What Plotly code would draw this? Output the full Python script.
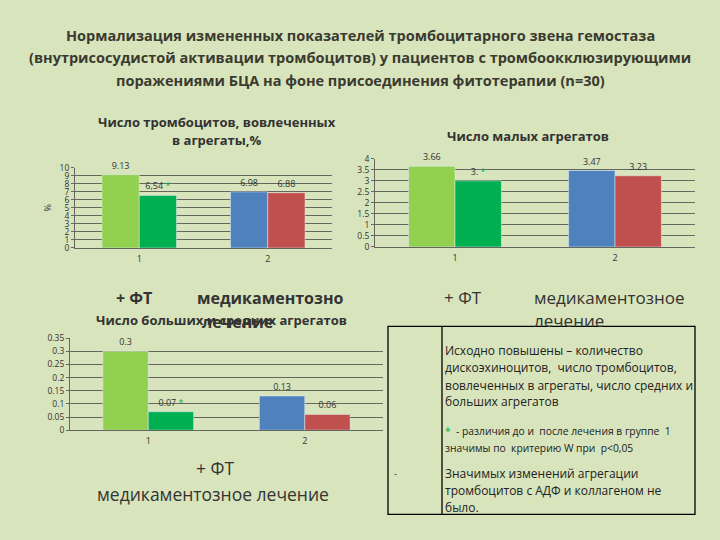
import plotly.graph_objects as go

# ---------------- data ----------------
categories = ["1", "2"]
group_names = ["до лечения", "после лечения"]

platelets_before = [9.13, 6.98]
platelets_after = [6.54, 6.88]
platelets_before_lbl = ["9.13", "6.98"]
platelets_after_lbl = ["6,54", "6.88"]

small_before = [3.66, 3.47]
small_after = [3.0, 3.23]
small_before_lbl = ["3.66", "3.47"]
small_after_lbl = ["3.", "3.23"]

large_before = [0.3, 0.13]
large_after = [0.07, 0.06]
large_before_lbl = ["0.3", "0.13"]
large_after_lbl = ["0.07", "0.06"]

star_flags = [True, False]  # significant change in group 1

colors_before = ["#92d050", "#4f81bd"]
colors_after = ["#00b050", "#c0504d"]

title_lines = [
    "Нормализация измененных показателей тромбоцитарного звена гемостаза",
    "(внутрисосудистой активации тромбоцитов) у пациентов с тромбоокклюзирующими",
    "поражениями БЦА на фоне присоединения фитотерапии (n=30)",
]
box_lines = [
    ("Исходно повышены – количество", 12),
    ("дискоэхиноцитов,  число тромбоцитов,", 12),
    ("вовлеченных в агрегаты, число средних и", 12),
    ("больших агрегатов", 12),
    ("<span style='color:#00b050'>*</span>  - различия до и  после лечения в группе  1", 10.3),
    ("значимы по  критерию W при  р<0,05", 10.3),
    ("Значимых изменений агрегации", 12),
    ("тромбоцитов с АДФ и коллагеном не", 12),
    ("было.", 12),
]
box_line_y = [352, 369, 387, 404, 434, 451, 477, 495, 512]

BG = "#d8e4bc"
FONT = "Open Sans"
W, H = 720, 540


def px(x):
    return x / W


def py(y):
    return 1 - y / H


def star(lbls):
    return [l + (" <span style='color:#00b050'>*</span>" if s else "") for l, s in zip(lbls, star_flags)]


fig = go.Figure()

charts = [
    ("", platelets_before, platelets_after, platelets_before_lbl, platelets_after_lbl),
    ("2", small_before, small_after, small_before_lbl, small_after_lbl),
    ("3", large_before, large_after, large_before_lbl, large_after_lbl),
]
for ax, b, a, bl, al in charts:
    fig.add_trace(go.Bar(x=categories, y=b, name=group_names[0], marker_color=colors_before,
                         text=bl, textposition="outside", cliponaxis=False,
                         textfont=dict(size=9, color="#333333"),
                         xaxis="x" + ax, yaxis="y" + ax, showlegend=False))
    fig.add_trace(go.Bar(x=categories, y=a, name=group_names[1], marker_color=colors_after,
                         text=star(al), textposition="outside", cliponaxis=False,
                         textfont=dict(size=9, color="#333333"),
                         xaxis="x" + ax, yaxis="y" + ax, showlegend=False))

grid = dict(showgrid=True, gridcolor="#666660", gridwidth=1, showline=True, linecolor="#666660",
            ticks="outside", ticklen=3, tickcolor="#666660", tickfont=dict(size=8.5, color="#333333"),
            zeroline=False)
xcommon = dict(showgrid=False, showline=True, linecolor="#666660", ticks="",
               tickfont=dict(size=9, color="#333333"), ticklabelstandoff=2)

fig.update_layout(
    width=W, height=H, margin=dict(l=0, r=0, t=0, b=0),
    paper_bgcolor=BG, plot_bgcolor=BG,
    font=dict(family=FONT, color="#333333"),
    barmode="group", bargap=0.42, bargroupgap=0,
    xaxis=dict(domain=[px(75), px(332)], anchor="y", **xcommon),
    yaxis=dict(domain=[py(247), py(165)], anchor="x", range=[0, 10], dtick=1,
               title=dict(text="%", font=dict(size=9), standoff=6), **grid),
    xaxis2=dict(domain=[px(375), px(695)], anchor="y2", **xcommon),
    yaxis2=dict(domain=[py(246), py(156)], anchor="x2", range=[0, 4], dtick=0.5, **grid),
    xaxis3=dict(domain=[px(70), px(383)], anchor="y3", **xcommon),
    yaxis3=dict(domain=[py(433), py(339)], anchor="x3", range=[0, 0.35], dtick=0.05, **grid),
)

ann = []


def text(x, y, s, size, bold=False, xanchor="center", color="#333333"):
    if bold:
        s = "<b>" + s + "</b>"
    ann.append(dict(x=px(x), y=py(y), xref="paper", yref="paper", text=s, showarrow=False,
                    xanchor=xanchor, yanchor="middle", font=dict(size=size, color=color, family=FONT)))


for i, t in enumerate(title_lines):
    text(360, 30 + i * 23, t, 14.5, bold=True, color="#3a3a30")

text(217, 118, "Число тромбоцитов, вовлеченных", 13, bold=True)
text(217, 137, "в агрегаты,%", 13, bold=True)
text(528, 133, "Число малых агрегатов", 13, bold=True)

text(134, 298, "+ ФТ", 16, bold=True)
text(270, 298, "медикаментозно", 16, bold=True)
text(237, 323, "лечение", 16, bold=True)
text(221, 321, "Число больших и средних агрегатов", 13, bold=True)

text(463, 298, "+ ФТ", 17)
text(532, 298, "медикаментозное", 17, xanchor="left")
text(532, 321, "лечение", 17, xanchor="left")

text(215, 472, "+ ФТ", 17.5)
text(213, 498, "медикаментозное лечение", 17.5)

for (s, size), y in zip(box_lines, box_line_y):
    text(443, y, s, size, xanchor="left", color="#222222")
text(395, 477, "-", 9)

fig.update_layout(annotations=ann)

fig.add_shape(type="rect", xref="paper", yref="paper", x0=px(388), x1=px(695), y0=py(519), y1=py(327),
              line=dict(color="black", width=1.3), fillcolor=BG, layer="above")
fig.add_shape(type="line", xref="paper", yref="paper", x0=px(442), x1=px(442), y0=py(519), y1=py(327),
              line=dict(color="black", width=1.3), layer="above")

fig.write_html("out.html", config={"displayModeBar": False},
               post_script="document.body.style.margin='0px';document.body.style.overflow='hidden';")
